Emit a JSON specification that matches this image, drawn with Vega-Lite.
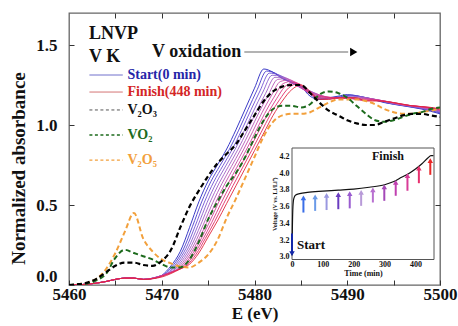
{
"$schema": "https://vega.github.io/schema/vega-lite/v6.json",
"width": 371, "height": 272,
"autosize": {"type": "none"},
"padding": {"left": 69, "top": 13, "right": 18, "bottom": 41},
"background": "white",
"config": {
 "font": "Liberation Serif",
 "view": {"stroke": "#666", "strokeWidth": 1.3},
 "axis": {"labelFont": "Liberation Serif", "titleFont": "Liberation Serif", "labelFontWeight": "bold", "titleFontWeight": "bold", "labelColor": "#111", "titleColor": "#111", "tickColor": "#333", "grid": false, "domain": false, "labelFlush": false}
},
"datasets": {
 "spec": [
  {"k":0,"E":5460,"A":0},{"k":0,"E":5462,"A":0.005},{"k":0,"E":5463,"A":0.012},{"k":0,"E":5464,"A":0.022},{"k":0,"E":5465,"A":0.035},{"k":0,"E":5466,"A":0.043},{"k":0,"E":5467,"A":0.043},{"k":0,"E":5468,"A":0.035},
  {"k":0,"E":5469,"A":0.04},{"k":0,"E":5470,"A":0.06},{"k":0,"E":5471,"A":0.12},{"k":0,"E":5472,"A":0.21},{"k":0,"E":5473,"A":0.36},{"k":0,"E":5474,"A":0.52},{"k":0,"E":5475,"A":0.65},{"k":0,"E":5476,"A":0.75},{"k":0,"E":5477,"A":0.85},{"k":0,"E":5478,"A":0.97},{"k":0,"E":5479,"A":1.10},{"k":0,"E":5480,"A":1.23},{"k":0,"E":5481,"A":1.35},{"k":0,"E":5482,"A":1.33},{"k":0,"E":5483,"A":1.29},{"k":0,"E":5484,"A":1.27},{"k":0,"E":5485,"A":1.24},{"k":0,"E":5486,"A":1.18},{"k":0,"E":5487,"A":1.16},{"k":0,"E":5488,"A":1.17},{"k":0,"E":5489,"A":1.18},{"k":0,"E":5490,"A":1.19},{"k":0,"E":5492,"A":1.17},{"k":0,"E":5494,"A":1.14},{"k":0,"E":5496,"A":1.12},{"k":0,"E":5498,"A":1.10},{"k":0,"E":5500,"A":1.07},
  {"k":1,"E":5460,"A":0},{"k":1,"E":5462,"A":0.005},{"k":1,"E":5463,"A":0.012},{"k":1,"E":5464,"A":0.022},{"k":1,"E":5465,"A":0.035},{"k":1,"E":5466,"A":0.043},{"k":1,"E":5467,"A":0.043},{"k":1,"E":5468,"A":0.035},
  {"k":1,"E":5469.3,"A":0.046},{"k":1,"E":5470.3,"A":0.067},{"k":1,"E":5471.3,"A":0.128},{"k":1,"E":5472.3,"A":0.219},{"k":1,"E":5473.3,"A":0.364},{"k":1,"E":5474.3,"A":0.519},{"k":1,"E":5475.3,"A":0.647},{"k":1,"E":5476.3,"A":0.748},{"k":1,"E":5477.3,"A":0.849},{"k":1,"E":5478.3,"A":0.968},{"k":1,"E":5479.3,"A":1.096},{"k":1,"E":5480.3,"A":1.222},{"k":1,"E":5481.3,"A":1.337},{"k":1,"E":5482.3,"A":1.322},{"k":1,"E":5483.3,"A":1.282},{"k":1,"E":5484.3,"A":1.259},{"k":1,"E":5485.3,"A":1.232},{"k":1,"E":5486.3,"A":1.179},{"k":1,"E":5487.3,"A":1.161},{"k":1,"E":5488.3,"A":1.17},{"k":1,"E":5489.3,"A":1.177},{"k":1,"E":5490.3,"A":1.186},{"k":1,"E":5492.3,"A":1.167},{"k":1,"E":5494.3,"A":1.138},{"k":1,"E":5496.3,"A":1.119},{"k":1,"E":5498.3,"A":1.099},{"k":1,"E":5500.3,"A":1.071},
  {"k":2,"E":5460,"A":0},{"k":2,"E":5462,"A":0.005},{"k":2,"E":5463,"A":0.012},{"k":2,"E":5464,"A":0.022},{"k":2,"E":5465,"A":0.035},{"k":2,"E":5466,"A":0.043},{"k":2,"E":5467,"A":0.043},{"k":2,"E":5468,"A":0.035},
  {"k":2,"E":5469.6,"A":0.052},{"k":2,"E":5470.6,"A":0.074},{"k":2,"E":5471.6,"A":0.136},{"k":2,"E":5472.6,"A":0.228},{"k":2,"E":5473.6,"A":0.368},{"k":2,"E":5474.6,"A":0.518},{"k":2,"E":5475.6,"A":0.644},{"k":2,"E":5476.6,"A":0.746},{"k":2,"E":5477.6,"A":0.848},{"k":2,"E":5478.6,"A":0.966},{"k":2,"E":5479.6,"A":1.092},{"k":2,"E":5480.6,"A":1.214},{"k":2,"E":5481.6,"A":1.324},{"k":2,"E":5482.6,"A":1.314},{"k":2,"E":5483.6,"A":1.274},{"k":2,"E":5484.6,"A":1.248},{"k":2,"E":5485.6,"A":1.224},{"k":2,"E":5486.6,"A":1.178},{"k":2,"E":5487.6,"A":1.162},{"k":2,"E":5488.6,"A":1.17},{"k":2,"E":5489.6,"A":1.174},{"k":2,"E":5490.6,"A":1.182},{"k":2,"E":5492.6,"A":1.164},{"k":2,"E":5494.6,"A":1.136},{"k":2,"E":5496.6,"A":1.118},{"k":2,"E":5498.6,"A":1.098},{"k":2,"E":5500.6,"A":1.072},
  {"k":3,"E":5460,"A":0},{"k":3,"E":5462,"A":0.005},{"k":3,"E":5463,"A":0.012},{"k":3,"E":5464,"A":0.022},{"k":3,"E":5465,"A":0.035},{"k":3,"E":5466,"A":0.043},{"k":3,"E":5467,"A":0.043},{"k":3,"E":5468,"A":0.035},
  {"k":3,"E":5469.9,"A":0.058},{"k":3,"E":5470.9,"A":0.081},{"k":3,"E":5471.9,"A":0.144},{"k":3,"E":5472.9,"A":0.237},{"k":3,"E":5473.9,"A":0.372},{"k":3,"E":5474.9,"A":0.517},{"k":3,"E":5475.9,"A":0.641},{"k":3,"E":5476.9,"A":0.744},{"k":3,"E":5477.9,"A":0.847},{"k":3,"E":5478.9,"A":0.964},{"k":3,"E":5479.9,"A":1.088},{"k":3,"E":5480.9,"A":1.206},{"k":3,"E":5481.9,"A":1.311},{"k":3,"E":5482.9,"A":1.306},{"k":3,"E":5483.9,"A":1.266},{"k":3,"E":5484.9,"A":1.237},{"k":3,"E":5485.9,"A":1.216},{"k":3,"E":5486.9,"A":1.177},{"k":3,"E":5487.9,"A":1.163},{"k":3,"E":5488.9,"A":1.17},{"k":3,"E":5489.9,"A":1.171},{"k":3,"E":5490.9,"A":1.178},{"k":3,"E":5492.9,"A":1.161},{"k":3,"E":5494.9,"A":1.134},{"k":3,"E":5496.9,"A":1.117},{"k":3,"E":5498.9,"A":1.097},{"k":3,"E":5500.9,"A":1.073},
  {"k":4,"E":5460,"A":0},{"k":4,"E":5462,"A":0.005},{"k":4,"E":5463,"A":0.012},{"k":4,"E":5464,"A":0.022},{"k":4,"E":5465,"A":0.035},{"k":4,"E":5466,"A":0.043},{"k":4,"E":5467,"A":0.043},{"k":4,"E":5468,"A":0.035},
  {"k":4,"E":5470.2,"A":0.064},{"k":4,"E":5471.2,"A":0.088},{"k":4,"E":5472.2,"A":0.152},{"k":4,"E":5473.2,"A":0.246},{"k":4,"E":5474.2,"A":0.376},{"k":4,"E":5475.2,"A":0.516},{"k":4,"E":5476.2,"A":0.638},{"k":4,"E":5477.2,"A":0.742},{"k":4,"E":5478.2,"A":0.846},{"k":4,"E":5479.2,"A":0.962},{"k":4,"E":5480.2,"A":1.084},{"k":4,"E":5481.2,"A":1.198},{"k":4,"E":5482.2,"A":1.298},{"k":4,"E":5483.2,"A":1.298},{"k":4,"E":5484.2,"A":1.258},{"k":4,"E":5485.2,"A":1.226},{"k":4,"E":5486.2,"A":1.208},{"k":4,"E":5487.2,"A":1.176},{"k":4,"E":5488.2,"A":1.164},{"k":4,"E":5489.2,"A":1.17},{"k":4,"E":5490.2,"A":1.168},{"k":4,"E":5491.2,"A":1.174},{"k":4,"E":5493.2,"A":1.158},{"k":4,"E":5495.2,"A":1.132},{"k":4,"E":5497.2,"A":1.116},{"k":4,"E":5499.2,"A":1.096},{"k":4,"E":5501.2,"A":1.074},
  {"k":5,"E":5460,"A":0},{"k":5,"E":5462,"A":0.005},{"k":5,"E":5463,"A":0.012},{"k":5,"E":5464,"A":0.022},{"k":5,"E":5465,"A":0.035},{"k":5,"E":5466,"A":0.043},{"k":5,"E":5467,"A":0.043},{"k":5,"E":5468,"A":0.035},
  {"k":5,"E":5470.5,"A":0.07},{"k":5,"E":5471.5,"A":0.095},{"k":5,"E":5472.5,"A":0.16},{"k":5,"E":5473.5,"A":0.255},{"k":5,"E":5474.5,"A":0.38},{"k":5,"E":5475.5,"A":0.515},{"k":5,"E":5476.5,"A":0.635},{"k":5,"E":5477.5,"A":0.74},{"k":5,"E":5478.5,"A":0.845},{"k":5,"E":5479.5,"A":0.96},{"k":5,"E":5480.5,"A":1.08},{"k":5,"E":5481.5,"A":1.19},{"k":5,"E":5482.5,"A":1.285},{"k":5,"E":5483.5,"A":1.29},{"k":5,"E":5484.5,"A":1.25},{"k":5,"E":5485.5,"A":1.215},{"k":5,"E":5486.5,"A":1.2},{"k":5,"E":5487.5,"A":1.175},{"k":5,"E":5488.5,"A":1.165},{"k":5,"E":5489.5,"A":1.17},{"k":5,"E":5490.5,"A":1.165},{"k":5,"E":5491.5,"A":1.17},{"k":5,"E":5493.5,"A":1.155},{"k":5,"E":5495.5,"A":1.13},{"k":5,"E":5497.5,"A":1.115},{"k":5,"E":5499.5,"A":1.095},{"k":5,"E":5501.5,"A":1.075},
  {"k":6,"E":5460,"A":0},{"k":6,"E":5462,"A":0.005},{"k":6,"E":5463,"A":0.012},{"k":6,"E":5464,"A":0.022},{"k":6,"E":5465,"A":0.035},{"k":6,"E":5466,"A":0.043},{"k":6,"E":5467,"A":0.043},{"k":6,"E":5468,"A":0.035},
  {"k":6,"E":5470.8,"A":0.076},{"k":6,"E":5471.8,"A":0.102},{"k":6,"E":5472.8,"A":0.168},{"k":6,"E":5473.8,"A":0.264},{"k":6,"E":5474.8,"A":0.384},{"k":6,"E":5475.8,"A":0.514},{"k":6,"E":5476.8,"A":0.632},{"k":6,"E":5477.8,"A":0.738},{"k":6,"E":5478.8,"A":0.844},{"k":6,"E":5479.8,"A":0.958},{"k":6,"E":5480.8,"A":1.076},{"k":6,"E":5481.8,"A":1.182},{"k":6,"E":5482.8,"A":1.272},{"k":6,"E":5483.8,"A":1.282},{"k":6,"E":5484.8,"A":1.242},{"k":6,"E":5485.8,"A":1.204},{"k":6,"E":5486.8,"A":1.192},{"k":6,"E":5487.8,"A":1.174},{"k":6,"E":5488.8,"A":1.166},{"k":6,"E":5489.8,"A":1.17},{"k":6,"E":5490.8,"A":1.162},{"k":6,"E":5491.8,"A":1.166},{"k":6,"E":5493.8,"A":1.152},{"k":6,"E":5495.8,"A":1.128},{"k":6,"E":5497.8,"A":1.114},{"k":6,"E":5499.8,"A":1.094},{"k":6,"E":5501.8,"A":1.076},
  {"k":7,"E":5460,"A":0},{"k":7,"E":5462,"A":0.005},{"k":7,"E":5463,"A":0.012},{"k":7,"E":5464,"A":0.022},{"k":7,"E":5465,"A":0.035},{"k":7,"E":5466,"A":0.043},{"k":7,"E":5467,"A":0.043},{"k":7,"E":5468,"A":0.035},
  {"k":7,"E":5471.1,"A":0.082},{"k":7,"E":5472.1,"A":0.109},{"k":7,"E":5473.1,"A":0.176},{"k":7,"E":5474.1,"A":0.273},{"k":7,"E":5475.1,"A":0.388},{"k":7,"E":5476.1,"A":0.513},{"k":7,"E":5477.1,"A":0.629},{"k":7,"E":5478.1,"A":0.736},{"k":7,"E":5479.1,"A":0.843},{"k":7,"E":5480.1,"A":0.956},{"k":7,"E":5481.1,"A":1.072},{"k":7,"E":5482.1,"A":1.174},{"k":7,"E":5483.1,"A":1.259},{"k":7,"E":5484.1,"A":1.274},{"k":7,"E":5485.1,"A":1.234},{"k":7,"E":5486.1,"A":1.193},{"k":7,"E":5487.1,"A":1.184},{"k":7,"E":5488.1,"A":1.173},{"k":7,"E":5489.1,"A":1.167},{"k":7,"E":5490.1,"A":1.17},{"k":7,"E":5491.1,"A":1.159},{"k":7,"E":5492.1,"A":1.162},{"k":7,"E":5494.1,"A":1.149},{"k":7,"E":5496.1,"A":1.126},{"k":7,"E":5498.1,"A":1.113},{"k":7,"E":5500.1,"A":1.093},{"k":7,"E":5502.1,"A":1.077},
  {"k":8,"E":5460,"A":0},{"k":8,"E":5462,"A":0.005},{"k":8,"E":5463,"A":0.012},{"k":8,"E":5464,"A":0.022},{"k":8,"E":5465,"A":0.035},{"k":8,"E":5466,"A":0.043},{"k":8,"E":5467,"A":0.043},{"k":8,"E":5468,"A":0.035},
  {"k":8,"E":5471.4,"A":0.088},{"k":8,"E":5472.4,"A":0.116},{"k":8,"E":5473.4,"A":0.184},{"k":8,"E":5474.4,"A":0.282},{"k":8,"E":5475.4,"A":0.392},{"k":8,"E":5476.4,"A":0.512},{"k":8,"E":5477.4,"A":0.626},{"k":8,"E":5478.4,"A":0.734},{"k":8,"E":5479.4,"A":0.842},{"k":8,"E":5480.4,"A":0.954},{"k":8,"E":5481.4,"A":1.068},{"k":8,"E":5482.4,"A":1.166},{"k":8,"E":5483.4,"A":1.246},{"k":8,"E":5484.4,"A":1.266},{"k":8,"E":5485.4,"A":1.226},{"k":8,"E":5486.4,"A":1.182},{"k":8,"E":5487.4,"A":1.176},{"k":8,"E":5488.4,"A":1.172},{"k":8,"E":5489.4,"A":1.168},{"k":8,"E":5490.4,"A":1.17},{"k":8,"E":5491.4,"A":1.156},{"k":8,"E":5492.4,"A":1.158},{"k":8,"E":5494.4,"A":1.146},{"k":8,"E":5496.4,"A":1.124},{"k":8,"E":5498.4,"A":1.112},{"k":8,"E":5500.4,"A":1.092},
  {"k":9,"E":5460,"A":0},{"k":9,"E":5462,"A":0.005},{"k":9,"E":5463,"A":0.012},{"k":9,"E":5464,"A":0.022},{"k":9,"E":5465,"A":0.035},{"k":9,"E":5466,"A":0.043},{"k":9,"E":5467,"A":0.043},{"k":9,"E":5468,"A":0.035},
  {"k":9,"E":5471.7,"A":0.094},{"k":9,"E":5472.7,"A":0.123},{"k":9,"E":5473.7,"A":0.192},{"k":9,"E":5474.7,"A":0.291},{"k":9,"E":5475.7,"A":0.396},{"k":9,"E":5476.7,"A":0.511},{"k":9,"E":5477.7,"A":0.623},{"k":9,"E":5478.7,"A":0.732},{"k":9,"E":5479.7,"A":0.841},{"k":9,"E":5480.7,"A":0.952},{"k":9,"E":5481.7,"A":1.064},{"k":9,"E":5482.7,"A":1.158},{"k":9,"E":5483.7,"A":1.233},{"k":9,"E":5484.7,"A":1.258},{"k":9,"E":5485.7,"A":1.218},{"k":9,"E":5486.7,"A":1.171},{"k":9,"E":5487.7,"A":1.168},{"k":9,"E":5488.7,"A":1.171},{"k":9,"E":5489.7,"A":1.169},{"k":9,"E":5490.7,"A":1.17},{"k":9,"E":5491.7,"A":1.153},{"k":9,"E":5492.7,"A":1.154},{"k":9,"E":5494.7,"A":1.143},{"k":9,"E":5496.7,"A":1.122},{"k":9,"E":5498.7,"A":1.111},{"k":9,"E":5500.7,"A":1.091},
  {"k":10,"E":5460,"A":0},{"k":10,"E":5462,"A":0.005},{"k":10,"E":5463,"A":0.012},{"k":10,"E":5464,"A":0.022},{"k":10,"E":5465,"A":0.035},{"k":10,"E":5466,"A":0.043},{"k":10,"E":5467,"A":0.043},{"k":10,"E":5468,"A":0.035},
  {"k":10,"E":5470,"A":0.05},{"k":10,"E":5472,"A":0.10},{"k":10,"E":5473,"A":0.13},{"k":10,"E":5474,"A":0.20},{"k":10,"E":5475,"A":0.30},{"k":10,"E":5476,"A":0.40},{"k":10,"E":5477,"A":0.51},{"k":10,"E":5478,"A":0.62},{"k":10,"E":5479,"A":0.73},{"k":10,"E":5480,"A":0.84},{"k":10,"E":5481,"A":0.95},{"k":10,"E":5482,"A":1.06},{"k":10,"E":5483,"A":1.15},{"k":10,"E":5484,"A":1.22},{"k":10,"E":5485,"A":1.25},{"k":10,"E":5486,"A":1.21},{"k":10,"E":5487,"A":1.16},{"k":10,"E":5488,"A":1.16},{"k":10,"E":5489,"A":1.17},{"k":10,"E":5490,"A":1.17},{"k":10,"E":5491,"A":1.17},{"k":10,"E":5492,"A":1.15},{"k":10,"E":5493,"A":1.15},{"k":10,"E":5495,"A":1.14},{"k":10,"E":5497,"A":1.12},{"k":10,"E":5499,"A":1.11},{"k":10,"E":5501,"A":1.09}
 ],
 "ref": [
  {"s":"V2O3","E":5460,"A":0},{"s":"V2O3","E":5461,"A":0.005},{"s":"V2O3","E":5462,"A":0.015},{"s":"V2O3","E":5463,"A":0.04},{"s":"V2O3","E":5464,"A":0.08},{"s":"V2O3","E":5465,"A":0.12},{"s":"V2O3","E":5466,"A":0.14},{"s":"V2O3","E":5467,"A":0.14},{"s":"V2O3","E":5468,"A":0.125},{"s":"V2O3","E":5469,"A":0.12},{"s":"V2O3","E":5470,"A":0.15},{"s":"V2O3","E":5471,"A":0.22},{"s":"V2O3","E":5472,"A":0.36},{"s":"V2O3","E":5473,"A":0.49},{"s":"V2O3","E":5474,"A":0.59},{"s":"V2O3","E":5475,"A":0.68},{"s":"V2O3","E":5476,"A":0.76},{"s":"V2O3","E":5477,"A":0.82},{"s":"V2O3","E":5478,"A":0.88},{"s":"V2O3","E":5479,"A":0.97},{"s":"V2O3","E":5480,"A":1.06},{"s":"V2O3","E":5481,"A":1.15},{"s":"V2O3","E":5482,"A":1.21},{"s":"V2O3","E":5483,"A":1.24},{"s":"V2O3","E":5484,"A":1.25},{"s":"V2O3","E":5485,"A":1.25},{"s":"V2O3","E":5486,"A":1.2},{"s":"V2O3","E":5487,"A":1.14},{"s":"V2O3","E":5488,"A":1.09},{"s":"V2O3","E":5489,"A":1.06},{"s":"V2O3","E":5490,"A":1.03},{"s":"V2O3","E":5491,"A":1.01},{"s":"V2O3","E":5492,"A":1.0},{"s":"V2O3","E":5493,"A":1.0},{"s":"V2O3","E":5494,"A":1.02},{"s":"V2O3","E":5495,"A":1.04},{"s":"V2O3","E":5496,"A":1.06},{"s":"V2O3","E":5497,"A":1.07},{"s":"V2O3","E":5498,"A":1.07},{"s":"V2O3","E":5499,"A":1.06},{"s":"V2O3","E":5500,"A":1.05},
  {"s":"VO2","E":5460,"A":0},{"s":"VO2","E":5462,"A":0.01},{"s":"VO2","E":5463,"A":0.03},{"s":"VO2","E":5464,"A":0.07},{"s":"VO2","E":5465,"A":0.17},{"s":"VO2","E":5466,"A":0.22},{"s":"VO2","E":5467,"A":0.2},{"s":"VO2","E":5468,"A":0.18},{"s":"VO2","E":5469,"A":0.16},{"s":"VO2","E":5470,"A":0.13},{"s":"VO2","E":5471,"A":0.11},{"s":"VO2","E":5472,"A":0.11},{"s":"VO2","E":5473,"A":0.16},{"s":"VO2","E":5474,"A":0.27},{"s":"VO2","E":5475,"A":0.41},{"s":"VO2","E":5476,"A":0.52},{"s":"VO2","E":5477,"A":0.62},{"s":"VO2","E":5478,"A":0.7},{"s":"VO2","E":5479,"A":0.8},{"s":"VO2","E":5480,"A":0.92},{"s":"VO2","E":5481,"A":1.03},{"s":"VO2","E":5482,"A":1.1},{"s":"VO2","E":5483,"A":1.12},{"s":"VO2","E":5484,"A":1.12},{"s":"VO2","E":5485,"A":1.11},{"s":"VO2","E":5486,"A":1.13},{"s":"VO2","E":5487,"A":1.19},{"s":"VO2","E":5488,"A":1.21},{"s":"VO2","E":5489,"A":1.2},{"s":"VO2","E":5490,"A":1.17},{"s":"VO2","E":5491,"A":1.12},{"s":"VO2","E":5492,"A":1.07},{"s":"VO2","E":5493,"A":1.03},{"s":"VO2","E":5494,"A":1.02},{"s":"VO2","E":5495,"A":1.03},{"s":"VO2","E":5496,"A":1.05},{"s":"VO2","E":5497,"A":1.07},{"s":"VO2","E":5498,"A":1.08},{"s":"VO2","E":5499,"A":1.1},{"s":"VO2","E":5500,"A":1.11},
  {"s":"V2O5","E":5460,"A":0},{"s":"V2O5","E":5461,"A":0.005},{"s":"V2O5","E":5462,"A":0.015},{"s":"V2O5","E":5463,"A":0.04},{"s":"V2O5","E":5464,"A":0.1},{"s":"V2O5","E":5465,"A":0.2},{"s":"V2O5","E":5466,"A":0.33},{"s":"V2O5","E":5467,"A":0.45},{"s":"V2O5","E":5468,"A":0.29},{"s":"V2O5","E":5469,"A":0.21},{"s":"V2O5","E":5470,"A":0.16},{"s":"V2O5","E":5471,"A":0.135},{"s":"V2O5","E":5472,"A":0.115},{"s":"V2O5","E":5473,"A":0.11},{"s":"V2O5","E":5474,"A":0.14},{"s":"V2O5","E":5475,"A":0.19},{"s":"V2O5","E":5476,"A":0.28},{"s":"V2O5","E":5477,"A":0.42},{"s":"V2O5","E":5478,"A":0.54},{"s":"V2O5","E":5479,"A":0.67},{"s":"V2O5","E":5480,"A":0.8},{"s":"V2O5","E":5481,"A":0.93},{"s":"V2O5","E":5482,"A":1.02},{"s":"V2O5","E":5483,"A":1.06},{"s":"V2O5","E":5484,"A":1.07},{"s":"V2O5","E":5485,"A":1.07},{"s":"V2O5","E":5486,"A":1.08},{"s":"V2O5","E":5487,"A":1.11},{"s":"V2O5","E":5488,"A":1.14},{"s":"V2O5","E":5489,"A":1.16},{"s":"V2O5","E":5490,"A":1.16},{"s":"V2O5","E":5491,"A":1.16},{"s":"V2O5","E":5492,"A":1.15},{"s":"V2O5","E":5493,"A":1.13},{"s":"V2O5","E":5494,"A":1.1},{"s":"V2O5","E":5495,"A":1.08},{"s":"V2O5","E":5496,"A":1.07},{"s":"V2O5","E":5497,"A":1.07},{"s":"V2O5","E":5498,"A":1.08},{"s":"V2O5","E":5499,"A":1.09},{"s":"V2O5","E":5500,"A":1.1}
 ],
 "volt": [
  {"t":0,"V":3.02},{"t":1,"V":3.3},{"t":3,"V":3.6},{"t":6,"V":3.7},{"t":12,"V":3.74},{"t":25,"V":3.755},{"t":50,"V":3.77},{"t":100,"V":3.785},{"t":150,"V":3.797},{"t":200,"V":3.81},{"t":250,"V":3.832},{"t":300,"V":3.862},{"t":330,"V":3.9},{"t":355,"V":3.95},{"t":380,"V":4.0},{"t":400,"V":4.05},{"t":420,"V":4.11},{"t":440,"V":4.18},{"t":450,"V":4.21},{"t":458,"V":4.21}
 ],
 "arrows": [
  {"t":37,"lo":3.53,"hi":3.705},{"t":75,"lo":3.55,"hi":3.717},{"t":112,"lo":3.56,"hi":3.735},{"t":150,"lo":3.57,"hi":3.745},{"t":187,"lo":3.58,"hi":3.757},{"t":224,"lo":3.61,"hi":3.77},{"t":262,"lo":3.65,"hi":3.8},{"t":299,"lo":3.67,"hi":3.835},{"t":336,"lo":3.73,"hi":3.89},{"t":374,"lo":3.79,"hi":3.97},{"t":411,"lo":3.88,"hi":4.06},{"t":448,"lo":3.98,"hi":4.15}
 ]
},
"layer": [
 {
  "layer": [
   {
    "data": {"name": "spec"},
    "mark": {"type": "line", "strokeWidth": 0.9, "clip": true, "interpolate": "monotone"},
    "encoding": {
     "x": {"field": "E", "type": "quantitative", "scale": {"domain": [5460, 5500], "nice": false, "zero": false},
      "axis": {"values": [5460,5465,5470,5475,5480,5485,5490,5495,5500], "format": "d", "labelExpr": "datum.value % 10 === 0 ? datum.label : ''", "tickSize": -5, "labelPadding": 6, "labelFontSize": 17, "title": "E (eV)", "titleFontSize": 17, "titleY": 33, "titleBaseline": "alphabetic"}},
     "y": {"field": "A", "type": "quantitative", "scale": {"domain": [0, 1.7], "nice": false, "zero": false},
      "axis": {"values": [0, 0.5, 1, 1.5], "format": ".1f", "tickSize": -5, "labelPadding": 17, "labelFontSize": 17, "labelFlush": true, "title": "Normalized absorbance", "titleFontSize": 19, "titleX": -51, "titleY": 155, "titleBaseline": "middle", "titleAlign": "center", "titleAngle": -90}},
     "color": {"field": "k", "type": "ordinal", "scale": {"domain": [0,1,2,3,4,5,6,7,8,9,10], "range": ["#2424c0","#4a3ccc","#6e4fd2","#8a5ccc","#a05ec4","#b458b8","#c44ca8","#d04096","#da3482","#e02a66","#e0243c"]}, "legend": null}
    }
   },
   {
    "data": {"name": "ref"},
    "transform": [{"filter": "datum.s === 'V2O5'"}],
    "mark": {"type": "line", "strokeWidth": 2, "strokeDash": [5, 3], "color": "#f2a03c", "clip": true, "interpolate": "monotone"},
    "encoding": {"x": {"field": "E", "type": "quantitative"}, "y": {"field": "A", "type": "quantitative"}}
   },
   {
    "data": {"name": "ref"},
    "transform": [{"filter": "datum.s === 'VO2'"}],
    "mark": {"type": "line", "strokeWidth": 2, "strokeDash": [5, 3], "color": "#1d6b1d", "clip": true, "interpolate": "monotone"},
    "encoding": {"x": {"field": "E", "type": "quantitative"}, "y": {"field": "A", "type": "quantitative"}}
   },
   {
    "data": {"name": "ref"},
    "transform": [{"filter": "datum.s === 'V2O3'"}],
    "mark": {"type": "line", "strokeWidth": 2.2, "strokeDash": [5, 3], "color": "#000000", "clip": true, "interpolate": "monotone"},
    "encoding": {"x": {"field": "E", "type": "quantitative"}, "y": {"field": "A", "type": "quantitative"}}
   },
   {"data": {"values": [{}]}, "mark": {"type": "text", "text": "LNVP", "align": "left", "baseline": "middle", "fontSize": 18, "fontWeight": "bold", "color": "#111"},
    "encoding": {"x": {"datum": 5462.16, "type": "quantitative"}, "y": {"datum": 1.569, "type": "quantitative"}}},
   {"data": {"values": [{}]}, "mark": {"type": "text", "text": "V K", "align": "left", "baseline": "middle", "fontSize": 18, "fontWeight": "bold", "color": "#111"},
    "encoding": {"x": {"datum": 5462.16, "type": "quantitative"}, "y": {"datum": 1.425, "type": "quantitative"}}},
   {"data": {"values": [{}]}, "mark": {"type": "text", "text": "V oxidation", "align": "left", "baseline": "middle", "fontSize": 18, "fontWeight": "bold", "color": "#111"},
    "encoding": {"x": {"datum": 5468.95, "type": "quantitative"}, "y": {"datum": 1.456, "type": "quantitative"}}},
   {"data": {"values": [{}]}, "mark": {"type": "rule", "color": "#9a9a9a", "strokeWidth": 1.6},
    "encoding": {"x": {"datum": 5478.9, "type": "quantitative"}, "x2": {"datum": 5490.1}, "y": {"datum": 1.456, "type": "quantitative"}}},
   {"data": {"values": [{}]}, "mark": {"type": "point", "shape": "triangle-right", "filled": true, "size": 70, "color": "#000", "opacity": 1},
    "encoding": {"x": {"datum": 5490.7, "type": "quantitative"}, "y": {"datum": 1.456, "type": "quantitative"}}},
   {"data": {"values": [{}]}, "mark": {"type": "rule", "color": "#7070cc", "strokeWidth": 1},
    "encoding": {"x": {"datum": 5462.2, "type": "quantitative"}, "x2": {"datum": 5465.8}, "y": {"datum": 1.3125, "type": "quantitative"}}},
   {"data": {"values": [{}]}, "mark": {"type": "text", "text": "Start(0 min)", "align": "left", "baseline": "middle", "fontSize": 14, "fontWeight": "bold", "color": "#2626a8"},
    "encoding": {"x": {"datum": 5466.3, "type": "quantitative"}, "y": {"datum": 1.3125, "type": "quantitative"}}},
   {"data": {"values": [{}]}, "mark": {"type": "rule", "color": "#d47474", "strokeWidth": 1},
    "encoding": {"x": {"datum": 5462.2, "type": "quantitative"}, "x2": {"datum": 5465.8}, "y": {"datum": 1.206, "type": "quantitative"}}},
   {"data": {"values": [{}]}, "mark": {"type": "text", "text": "Finish(448 min)", "align": "left", "baseline": "middle", "fontSize": 14, "fontWeight": "bold", "color": "#d42626"},
    "encoding": {"x": {"datum": 5466.3, "type": "quantitative"}, "y": {"datum": 1.206, "type": "quantitative"}}},
   {"data": {"values": [{}]}, "mark": {"type": "rule", "color": "#555", "strokeWidth": 1, "strokeDash": [3, 2.5]},
    "encoding": {"x": {"datum": 5462.2, "type": "quantitative"}, "x2": {"datum": 5465.8}, "y": {"datum": 1.094, "type": "quantitative"}}},
   {"data": {"values": [{}]}, "mark": {"type": "text", "text": "V₂O₃", "align": "left", "baseline": "middle", "fontSize": 14, "fontWeight": "bold", "color": "#111"},
    "encoding": {"x": {"datum": 5466.3, "type": "quantitative"}, "y": {"datum": 1.094, "type": "quantitative"}}},
   {"data": {"values": [{}]}, "mark": {"type": "rule", "color": "#1d6b1d", "strokeWidth": 1.3, "strokeDash": [3, 2.5]},
    "encoding": {"x": {"datum": 5462.2, "type": "quantitative"}, "x2": {"datum": 5465.8}, "y": {"datum": 0.9375, "type": "quantitative"}}},
   {"data": {"values": [{}]}, "mark": {"type": "text", "text": "VO₂", "align": "left", "baseline": "middle", "fontSize": 14, "fontWeight": "bold", "color": "#1d6b1d"},
    "encoding": {"x": {"datum": 5466.3, "type": "quantitative"}, "y": {"datum": 0.9375, "type": "quantitative"}}},
   {"data": {"values": [{}]}, "mark": {"type": "rule", "color": "#f2a03c", "strokeWidth": 1.3, "strokeDash": [3, 2.5]},
    "encoding": {"x": {"datum": 5462.2, "type": "quantitative"}, "x2": {"datum": 5465.8}, "y": {"datum": 0.78, "type": "quantitative"}}},
   {"data": {"values": [{}]}, "mark": {"type": "text", "text": "V₂O₅", "align": "left", "baseline": "middle", "fontSize": 14, "fontWeight": "bold", "color": "#f2a03c"},
    "encoding": {"x": {"datum": 5466.3, "type": "quantitative"}, "y": {"datum": 0.78, "type": "quantitative"}}}
  ]
 },
 {
  "layer": [
   {"data": {"values": [{}]}, "mark": {"type": "rect", "fill": "white", "stroke": "#555", "strokeWidth": 1},
    "encoding": {
     "x": {"datum": 0, "type": "quantitative", "scale": {"domain": [0, 460], "range": [223, 365], "nice": false, "zero": false},
      "axis": {"orient": "bottom", "offset": -25.5, "values": [0,100,200,300,400], "format": "d", "tickSize": -3, "labelPadding": 4, "labelFontSize": 8, "title": "Time (min)", "titleFontSize": 8, "titlePadding": 1}},
     "x2": {"datum": 460},
     "y": {"datum": 2.97, "type": "quantitative", "scale": {"domain": [2.97, 4.3], "range": [246.5, 135], "nice": false, "zero": false},
      "axis": {"orient": "left", "offset": -223, "values": [3.0,3.2,3.4,3.6,3.8,4.0,4.2], "format": ".1f", "tickSize": -3, "labelPadding": 6, "labelFontSize": 8, "title": "Voltage (V vs. Li/Li⁺)", "titleFontSize": 6, "titlePadding": 2}},
     "y2": {"datum": 4.3}
    }},
   {"data": {"name": "volt"}, "mark": {"type": "line", "color": "#111", "strokeWidth": 1.2, "interpolate": "monotone"},
    "encoding": {"x": {"field": "t", "type": "quantitative"}, "y": {"field": "V", "type": "quantitative"}}},
   {"data": {"name": "arrows"}, "mark": {"type": "rule", "strokeWidth": 2},
    "encoding": {"x": {"field": "t", "type": "quantitative"}, "y": {"field": "lo", "type": "quantitative"}, "y2": {"field": "hi"},
     "color": {"field": "t", "type": "ordinal", "scale": {"domain": [37,75,112,150,187,224,262,299,336,374,411,448], "range": ["#3a6ee8","#6a9ae8","#9a98e0","#6a3cc0","#9a5cd0","#b89ad8","#b870d0","#a448b8","#c040b0","#d83c98","#e8306e","#e82828"]}, "legend": null}}},
   {"data": {"name": "arrows"}, "mark": {"type": "point", "shape": "triangle-up", "filled": true, "size": 30, "opacity": 1},
    "encoding": {"x": {"field": "t", "type": "quantitative"}, "y": {"field": "hi", "type": "quantitative"},
     "color": {"field": "t", "type": "ordinal", "legend": null}}},
   {"data": {"values": [{}]}, "mark": {"type": "rule", "color": "#1428a8", "strokeWidth": 2},
    "encoding": {"x": {"datum": 0, "type": "quantitative"}, "y": {"datum": 3.28, "type": "quantitative"}, "y2": {"datum": 3.06}}},
   {"data": {"values": [{}]}, "mark": {"type": "point", "shape": "triangle-down", "filled": true, "size": 30, "color": "#1428a8", "opacity": 1},
    "encoding": {"x": {"datum": 0, "type": "quantitative"}, "y": {"datum": 3.04, "type": "quantitative"}}},
   {"data": {"values": [{}]}, "mark": {"type": "text", "text": "Finish", "align": "center", "baseline": "middle", "fontSize": 12, "fontWeight": "bold", "color": "#111"},
    "encoding": {"x": {"datum": 311, "type": "quantitative"}, "y": {"datum": 4.2, "type": "quantitative"}}},
   {"data": {"values": [{}]}, "mark": {"type": "text", "text": "Start", "align": "left", "baseline": "middle", "fontSize": 13, "fontWeight": "bold", "color": "#111"},
    "encoding": {"x": {"datum": 16, "type": "quantitative"}, "y": {"datum": 3.143, "type": "quantitative"}}}
  ]
 },
 {
  "data": {"values": [{}]},
  "mark": {"type": "point", "opacity": 0},
  "encoding": {
   "x": {"datum": 5480, "type": "quantitative", "scale": {"domain": [5460, 5500], "nice": false, "zero": false},
    "axis": {"orient": "top", "values": [5465,5470,5475,5480,5485,5490,5495], "labels": false, "tickSize": -5, "title": null}},
   "y": {"datum": 1, "type": "quantitative", "scale": {"domain": [0, 1.7], "nice": false, "zero": false},
    "axis": {"orient": "right", "values": [0.5, 1, 1.5], "labels": false, "tickSize": -5, "title": null}}
  }
 }
],
"resolve": {"scale": {"x": "independent", "y": "independent", "color": "independent"}}
}
